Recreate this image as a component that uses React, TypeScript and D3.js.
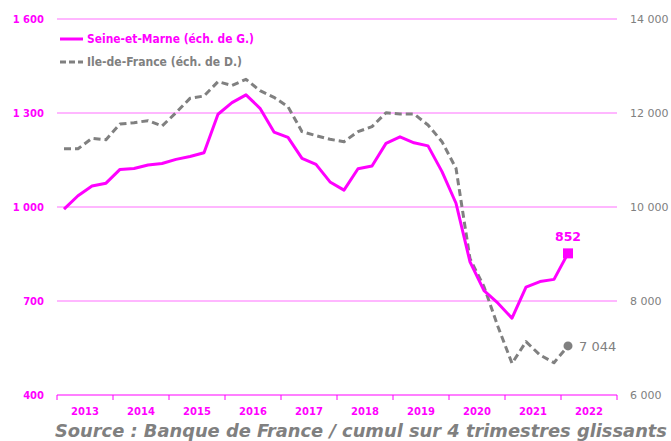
import React from "react";
import * as d3 from "d3";

const years = ["2013", "2014", "2015", "2016", "2017", "2018", "2019", "2020", "2021", "2022"];
const seineEtMarne = [
  993, 1036, 1067, 1076, 1120, 1123, 1134, 1139, 1152, 1161, 1173, 1296, 1333, 1358, 1315, 1239,
  1222, 1155, 1136, 1080, 1054, 1122, 1131, 1203, 1224, 1205, 1195, 1113, 1012, 825, 733, 693,
  645, 744, 762, 769, 852,
];
const ileDeFrance = [
  11240, 11240, 11461, 11433, 11766, 11794, 11837, 11723, 12006, 12312, 12362, 12667, 12585, 12717,
  12475, 12333, 12134, 11603, 11518, 11440, 11390, 11603, 11709, 12006, 11979, 11979, 11745, 11390,
  10823, 8900, 8304, 7454, 6674, 7134, 6851, 6687, 7044,
];
const leftTicks = [400, 700, 1000, 1300, 1600];
const rightTicks = [6000, 8000, 10000, 12000, 14000];
const legendLabels = ["Seine-et-Marne (éch. de G.)", "Ile-de-France (éch. de D.)"];
const sourceText = "Source : Banque de France / cumul sur 4 trimestres glissants";

const PINK = "#ff00ff";
const GRID = "#ff70ff";
const GRAY = "#808080";
const FONT_C = "'DejaVu Sans Condensed', 'DejaVu Sans', sans-serif";
const FONT = "'DejaVu Sans', sans-serif";

const fmt = (v: number) => {
  const s = String(Math.round(v));
  return s.replace(/\B(?=(\d{3})+(?!\d))/g, " ");
};

export default function App() {
  const W = 671;
  const H = 441;
  const x0 = 57;
  const x1 = 617;
  const yTop = 19;
  const yBot = 395;

  const xYear = d3.scaleBand<string>().domain(years).range([x0, x1]);
  const nQ = years.length * 4;
  const xQ = d3.scaleLinear().domain([0, nQ]).range([x0, x1]);
  const xi = (i: number) => xQ(i + 0.5);
  const yL = d3.scaleLinear().domain([400, 1600]).range([yBot, yTop]);
  const yR = d3.scaleLinear().domain([6000, 14000]).range([yBot, yTop]);

  const linePink = d3
    .line<number>()
    .x((_, i) => xi(i))
    .y((d) => yL(d));
  const lineGray = d3
    .line<number>()
    .x((_, i) => xi(i))
    .y((d) => yR(d));

  const lastI = seineEtMarne.length - 1;
  const lastP = seineEtMarne[lastI];
  const lastG = ileDeFrance[ileDeFrance.length - 1];

  const yearBounds = years.map((y) => xYear(y) as number).concat([x1]);

  return (
    <svg
      width={W}
      height={H}
      style={{ position: "absolute", left: 0, top: 0, background: "#fff" }}
      fontFamily={FONT}
    >
      <rect x={0} y={0} width={W} height={H} fill="#fff" />
      {leftTicks
        .filter((t) => t !== 400)
        .map((t) => (
          <line key={t} x1={x0} x2={x1} y1={yL(t)} y2={yL(t)} stroke={GRID} strokeWidth={1.2} />
        ))}
      <line x1={x0} x2={x1} y1={yBot} y2={yBot} stroke={PINK} strokeWidth={1.2} />
      {yearBounds.map((b, i) => (
        <line key={i} x1={b} x2={b} y1={yBot} y2={yBot + 5} stroke={PINK} strokeWidth={1} />
      ))}
      {years.map((y) => (
        <text
          key={y}
          x={(xYear(y) as number) + xYear.bandwidth() / 2}
          y={415}
          textAnchor="middle"
          fontSize={10}
          fontWeight="bold"
          fill={PINK}
        >
          {y}
        </text>
      ))}
      {leftTicks.map((t) => (
        <text
          key={t}
          x={44}
          y={yL(t) + 4}
          textAnchor="end"
          fontSize={10}
          fontWeight="bold"
          fill={PINK}
        >
          {fmt(t)}
        </text>
      ))}
      {rightTicks.map((t) => (
        <text key={t} x={630} y={yR(t) + 4} fontSize={11} fill={GRAY}>
          {fmt(t)}
        </text>
      ))}
      <path
        d={lineGray(ileDeFrance) || ""}
        fill="none"
        stroke={GRAY}
        strokeWidth={3}
        strokeDasharray="7,4"
        strokeLinejoin="round"
      />
      <path
        d={linePink(seineEtMarne) || ""}
        fill="none"
        stroke={PINK}
        strokeWidth={3}
        strokeLinejoin="round"
      />
      <rect x={xi(lastI) - 5} y={yL(lastP) - 5} width={10} height={10} fill={PINK} />
      <text
        x={xi(lastI)}
        y={yL(lastP) - 12}
        textAnchor="middle"
        fontSize={12.5}
        fontWeight="bold"
        fill={PINK}
      >
        {fmt(lastP)}
      </text>
      <circle cx={xi(lastI)} cy={yR(lastG)} r={4.5} fill={GRAY} />
      <text x={xi(lastI) + 11} y={yR(lastG) + 5} fontSize={13} fill={GRAY}>
        {fmt(lastG)}
      </text>
      <line x1={60} x2={83} y1={39} y2={39} stroke={PINK} strokeWidth={3} />
      <text
        x={87}
        y={43}
        fontFamily={FONT_C}
        fontSize={11.5}
        fontWeight="bold"
        fill={PINK}
        textLength={167}
        lengthAdjust="spacingAndGlyphs"
      >
        {legendLabels[0]}
      </text>
      <line
        x1={60}
        x2={83}
        y1={62}
        y2={62}
        stroke={GRAY}
        strokeWidth={3}
        strokeDasharray="6,3"
      />
      <text
        x={87}
        y={66}
        fontFamily={FONT_C}
        fontSize={11.5}
        fontWeight="bold"
        fill={GRAY}
        textLength={155}
        lengthAdjust="spacingAndGlyphs"
      >
        {legendLabels[1]}
      </text>
      <text
        x={55}
        y={437}
        fontFamily={FONT_C}
        fontSize={17}
        fontWeight="bold"
        fontStyle="italic"
        fill={GRAY}
        textLength={612}
        lengthAdjust="spacingAndGlyphs"
      >
        {sourceText}
      </text>
    </svg>
  );
}
